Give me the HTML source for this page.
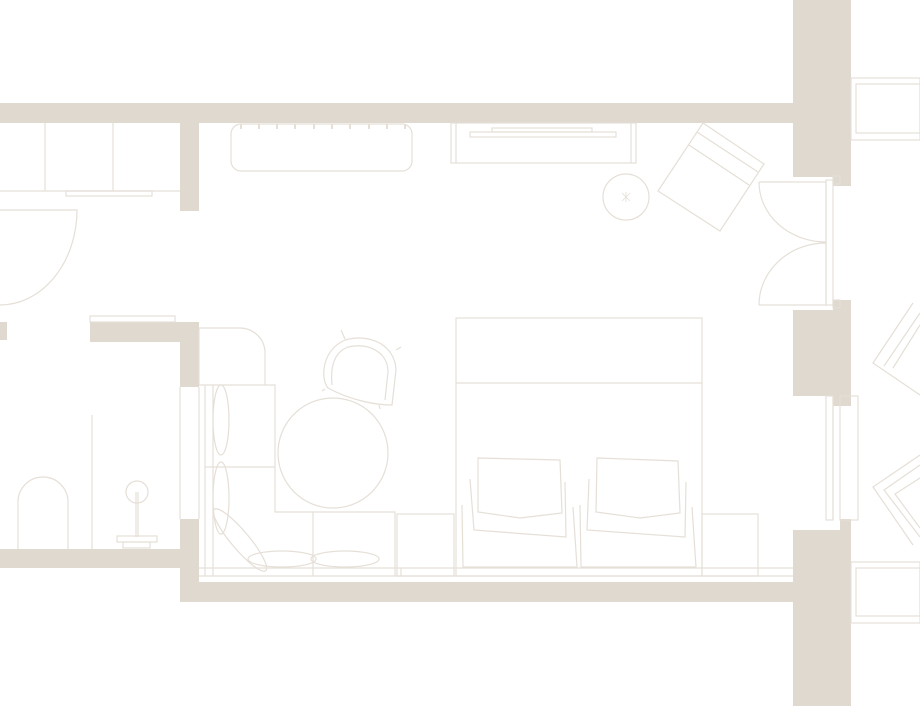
<!DOCTYPE html>
<html><head><meta charset="utf-8"><style>html,body{margin:0;padding:0;background:#fff}svg{display:block}</style></head>
<body>
<svg width="920" height="706" viewBox="0 0 920 706" xmlns="http://www.w3.org/2000/svg">
<g fill="#e0d9cf" stroke="none">
<rect x="0" y="103" width="793" height="20"/>
<rect x="793" y="0" width="47" height="177"/>
<rect x="833" y="0" width="18" height="186"/>
<rect x="180" y="122" width="19" height="89"/>
<rect x="90" y="322" width="109" height="20"/>
<rect x="180" y="322" width="19" height="65"/>
<rect x="0" y="322" width="7" height="18"/>
<rect x="180" y="519" width="19" height="83"/>
<rect x="0" y="549" width="180" height="19"/>
<rect x="180" y="582" width="613" height="20"/>
<rect x="793" y="310" width="47" height="86"/>
<rect x="833" y="300" width="18" height="106"/>
<rect x="793" y="530" width="58" height="176"/>
<rect x="840" y="519" width="11" height="20"/>
</g>
<g fill="none" stroke="#e5dfd7" stroke-width="1.2">
<!-- closet -->
<line x1="0" y1="191" x2="180" y2="191"/>
<line x1="45" y1="123" x2="45" y2="191"/>
<line x1="113" y1="123" x2="113" y2="191"/>
<rect x="66" y="191" width="86" height="5"/>
<!-- left door -->
<path d="M0 210 L77 210 A77 95 0 0 1 0 305"/>
<rect x="90" y="316" width="85" height="6"/>
<!-- bathroom -->
<line x1="92" y1="415" x2="92" y2="549"/>
<path d="M18 549 L18 502 A25 25 0 0 1 68 502 L68 549"/>
<circle cx="137" cy="492" r="11"/>
<line x1="136" y1="492" x2="136" y2="537"/>
<line x1="138" y1="492" x2="138" y2="537"/>
<rect x="117" y="536" width="40" height="6"/>
<rect x="123" y="542" width="27" height="6"/>
<!-- partition gap lines -->
<line x1="180" y1="387" x2="180" y2="519"/>
<line x1="199" y1="387" x2="199" y2="519"/>
<!-- bench -->
<rect x="231" y="124" width="181" height="47" rx="10"/>
<g stroke-width="2"><line x1="241" y1="124" x2="241" y2="129"/><line x1="259" y1="124" x2="259" y2="129"/><line x1="277" y1="124" x2="277" y2="129"/><line x1="295" y1="124" x2="295" y2="129"/><line x1="314" y1="124" x2="314" y2="129"/><line x1="332" y1="124" x2="332" y2="129"/><line x1="350" y1="124" x2="350" y2="129"/><line x1="369" y1="124" x2="369" y2="129"/><line x1="387" y1="124" x2="387" y2="129"/><line x1="405" y1="124" x2="405" y2="129"/></g>
<!-- desk -->
<rect x="451" y="123" width="185" height="40"/>
<line x1="456" y1="123" x2="456" y2="163"/><line x1="631" y1="123" x2="631" y2="163"/>
<rect x="470" y="132" width="146" height="5"/>
<rect x="492" y="128" width="100" height="4"/>
<circle cx="626" cy="197" r="23"/>
<path d="M622 193 L630 201 M630 193 L622 201 M626 192 L626 202" stroke-width="0.8"/>
<!-- armchair -->
<path d="M703 123 L764 164 L720 231 L658 191 Z"/>
<path d="M697 132 L758 172 M689 145 L749 185"/>
<!-- double door -->
<rect x="826" y="180" width="7" height="125"/>
<rect x="833" y="176" width="7" height="8"/><rect x="833" y="300" width="7" height="8"/>
<path d="M759 182 L826 182 L826 242 A67 60 0 0 1 759 182"/>
<path d="M759 305 L826 305 L826 243 A67 62 0 0 0 759 305"/>
<!-- right window -->
<rect x="826" y="396" width="7" height="124"/>
<rect x="840" y="396" width="18" height="124"/>
<line x1="833" y1="396" x2="833" y2="520"/>
<rect x="851" y="78" width="69" height="62"/><rect x="856" y="84" width="64" height="49"/>
<rect x="851" y="562" width="69" height="61"/><rect x="856" y="568" width="64" height="48"/>
<path d="M913 303 L873 363 L920 395 M920 313 L884 366 M920 325 L893 368"/>
<path d="M920 455 L873 487 L913 545 M920 465 L884 490 L920 537 M920 478 L895 494 L920 528"/>
<!-- bed -->
<rect x="456" y="318" width="246" height="258"/>
<line x1="456" y1="383" x2="702" y2="383"/>
<rect x="397" y="514" width="57" height="62"/>
<rect x="702" y="514" width="56" height="62"/>
<!-- chairs on bed -->
<path d="M478 458 L560 460 L562 513 L520 518 L478 512 Z"/>
<path d="M470 479 L474 530 L566 537 L565 482"/>
<path d="M462 505 L463 567 L577 567 L573 507"/>
<path d="M597 458 L678 461 L680 513 L640 518 L596 512 Z"/>
<path d="M589 479 L587 530 L685 537 L686 482"/>
<path d="M580 505 L581 567 L696 567 L692 507"/>
<!-- window sill lines bottom -->
<line x1="199" y1="568" x2="793" y2="568"/>
<line x1="199" y1="576" x2="793" y2="576"/>
<!-- sofa -->
<line x1="205" y1="385" x2="205" y2="576"/><line x1="213" y1="385" x2="213" y2="576"/>
<path d="M199 385 L275 385 L275 512 L395 512 L395 576"/>
<line x1="205" y1="467" x2="275" y2="467"/>
<line x1="313" y1="512" x2="313" y2="576"/>
<line x1="401" y1="568" x2="401" y2="576"/>
<ellipse cx="221" cy="420" rx="8" ry="35"/>
<ellipse cx="221" cy="498" rx="8" ry="36"/>
<ellipse cx="240" cy="540" rx="9" ry="40" transform="rotate(-40 240 540)"/>
<ellipse cx="282" cy="559" rx="34" ry="8"/>
<ellipse cx="345" cy="559" rx="34" ry="8"/>
<path d="M199 385 L199 328 L240 328 A25 25 0 0 1 265 353 L265 385"/>
<!-- table and chair -->
<circle cx="333" cy="453" r="55"/>
<path d="M345 340 C370 333 395 345 396 370 L392 405 C375 405 350 400 328 388 C320 378 322 350 345 340 Z"/>
<path d="M348 347 C368 342 388 352 388 372 L385 400 M332 385 C330 365 335 352 348 347"/>
<line x1="341" y1="330" x2="345" y2="339"/><line x1="396" y1="350" x2="401" y2="347"/><line x1="325" y1="389" x2="322" y2="391"/><line x1="379" y1="405" x2="380" y2="409"/>
</g>
</svg>
</body></html>
